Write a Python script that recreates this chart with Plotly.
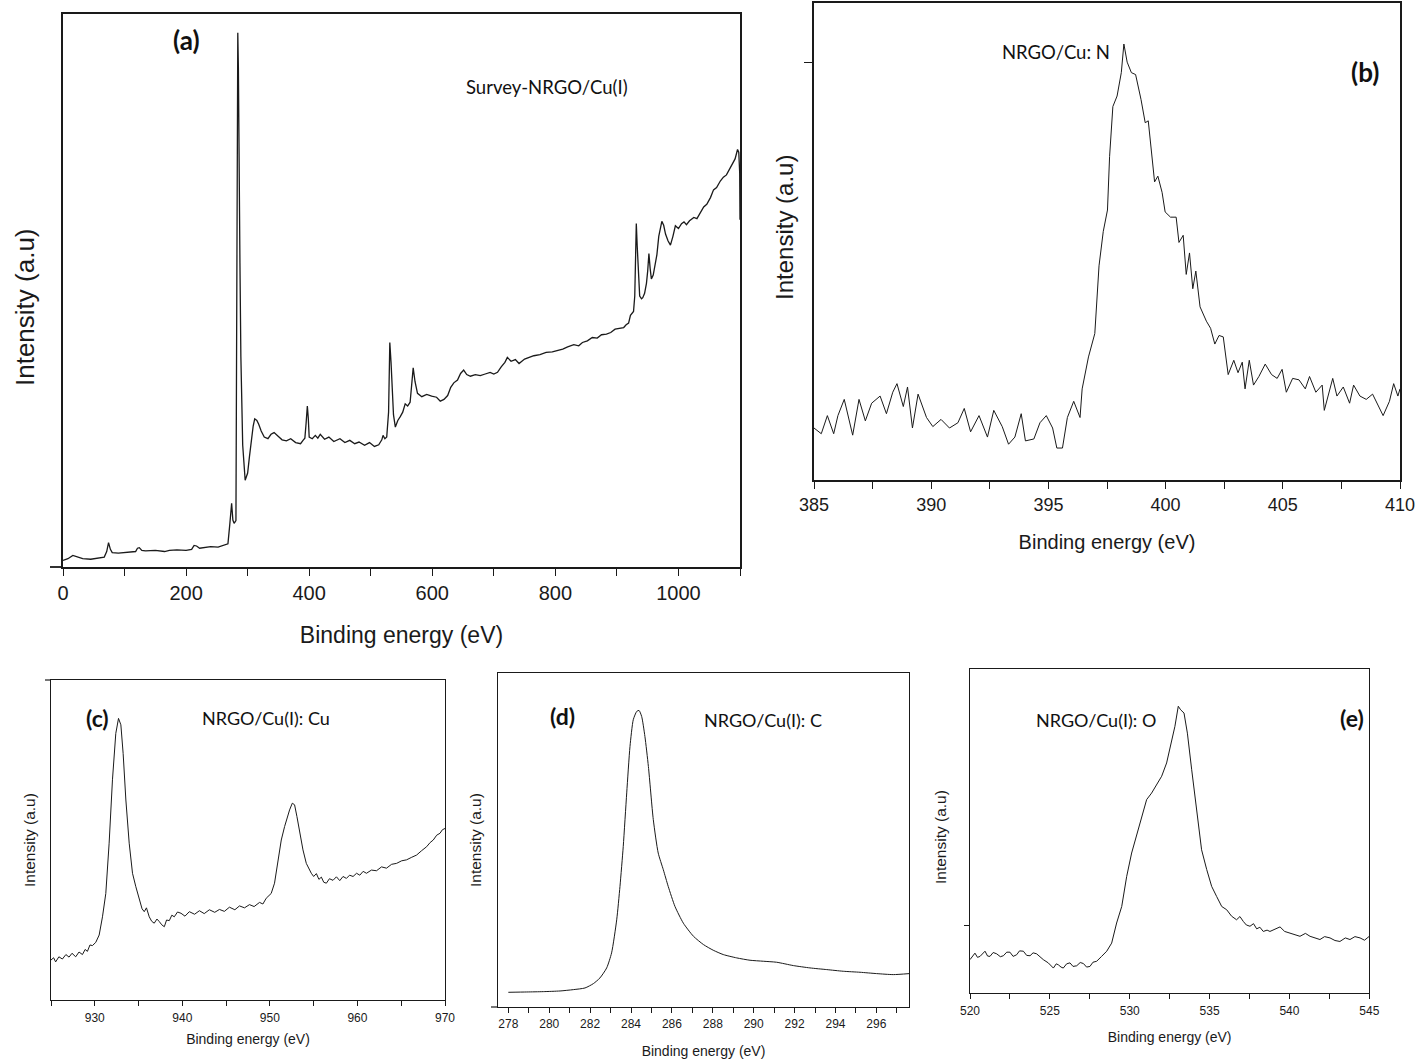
import plotly.graph_objects as go

# ---------------- data ----------------
# (a) survey spectrum
a_x = [0, 8, 16, 24, 32, 45, 60, 67, 71, 74,
       77, 80, 90, 105, 118, 121, 124, 128, 134, 150,
       165, 173, 185, 200, 209, 213, 217, 222, 229, 240,
       252, 262, 268, 271, 274, 276, 278, 281, 282.5, 284,
       285, 286, 287.5, 289, 292, 296, 300, 303, 306, 309,
       311.5, 315, 318, 322, 327, 333, 338, 343, 350, 356,
       363, 370, 378, 386, 390, 393, 395, 397, 398.5, 400,
       405, 410, 414, 418, 425, 432, 440, 450, 458, 466,
       474, 481, 490, 498, 506, 513, 518, 520, 523, 526,
       529, 531, 533, 535, 537, 540, 544, 548, 552, 556,
       560, 564, 567, 569, 572, 576, 583, 591, 599, 607,
       613, 619, 625, 630, 635, 641, 646, 651, 656, 662,
       670, 678, 686, 694, 700, 706, 712, 718, 722, 728,
       735, 741, 750, 758, 765, 775, 785, 795, 804, 812,
       820, 830, 838, 844, 852, 860, 868, 875, 883, 890,
       897, 904, 911, 915, 919, 922, 925, 927, 929, 930.5,
       931.5, 933, 935, 937, 940, 942, 945, 948, 950, 952,
       954, 956, 959, 962, 965, 968, 971, 973, 976, 979,
       983, 987, 991, 995, 1000, 1005, 1009, 1013, 1018, 1025,
       1030, 1035, 1041, 1046, 1052, 1057, 1062, 1068, 1073, 1078,
       1083, 1088, 1092, 1096, 1098, 1099.5, 1100]
a_y = [1.2, 1.5, 2.1, 1.8, 1.5, 1.4, 1.6, 1.8, 2.8, 4.4,
       3.2, 2.6, 2.5, 2.7, 2.8, 3.4, 3.5, 3.0, 2.9, 3.0,
       2.8, 3.0, 3.1, 3.0, 3.2, 3.9, 3.8, 3.4, 3.5, 3.7,
       3.6, 4.0, 4.2, 7.7, 11.5, 8.5, 7.9, 8.4, 40, 96.6,
       90, 80, 55, 38, 22, 15.7, 17.0, 20.0, 23.0, 25.5,
       26.8, 26.5, 25.8, 24.6, 23.5, 23.2, 24.0, 24.3, 23.6, 23.0,
       22.8, 23.2, 22.5, 22.3, 22.9, 23.3, 26.0, 29.1, 27, 23.5,
       23.2, 23.8, 23.3, 24.0, 23.1, 23.5, 22.7, 23.2, 22.5, 22.9,
       22.3, 22.6, 22.0, 22.5, 21.8, 22.1, 23.0, 23.8, 23.2, 23.5,
       28, 40.6, 37, 31.4, 27.5, 25.3, 26.5, 27.2, 28.0, 29.5,
       29.1, 29.8, 33, 36.0, 33.5, 31.4, 30.8, 31.2, 30.9, 30.7,
       30.0, 30.3, 31.0, 32.5, 33.3, 33.8, 35.0, 35.6, 34.8, 34.5,
       34.8, 34.6, 34.9, 35.2, 34.9, 35.2, 36.2, 37.0, 37.9, 37.2,
       37.5, 36.8, 37.6, 37.9, 38.2, 38.4, 38.8, 38.9, 39.1, 39.4,
       39.8, 40.2, 40.0, 40.6, 40.9, 41.5, 41.4, 42.0, 42.1, 42.4,
       43.0, 43.2, 43.3, 43.8, 44.1, 45.5, 46.0, 46.2, 49, 57,
       62.1, 58, 52, 49.0, 48.5, 48.7, 49.5, 51.3, 53.5, 56.7,
       54, 52.1, 52.8, 54.4, 56.5, 59.8, 61.5, 62.5, 61.8, 60.2,
       59.0, 58.2, 59.8, 61.7, 61.2, 62.1, 62.4, 61.9, 62.6, 63.2,
       63.0, 64.0, 65.1, 65.6, 66.8, 68.2, 68.6, 69.8, 70.5, 70.9,
       72.0, 72.8, 73.8, 75.5, 75.0, 71.3, 62.8]

# (b) N 1s
b_x = [385.00, 385.31, 385.57, 385.84, 386.02, 386.29, 386.65, 386.92, 387.19, 387.46,
       387.82, 388.09, 388.36, 388.54, 388.81, 388.99, 389.20, 389.44, 389.80, 390.07,
       390.42, 390.78, 391.14, 391.41, 391.68, 392.04, 392.40, 392.67, 393.03, 393.30,
       393.57, 393.84, 394.02, 394.38, 394.64, 394.91, 395.18, 395.36, 395.60, 395.81,
       396.08, 396.35, 396.44, 396.71, 396.98, 397.16, 397.34, 397.52, 397.61, 397.75,
       397.93, 398.11, 398.22, 398.36, 398.54, 398.72, 398.95, 399.13, 399.26, 399.40,
       399.53, 399.67, 399.85, 399.98, 400.21, 400.45, 400.57, 400.75, 400.88, 401.02,
       401.16, 401.29, 401.47, 401.74, 401.92, 402.10, 402.28, 402.46, 402.67, 402.91,
       403.09, 403.27, 403.39, 403.57, 403.75, 403.98, 404.25, 404.52, 404.76, 404.97,
       405.15, 405.42, 405.69, 405.96, 406.14, 406.41, 406.68, 406.77, 407.13, 407.31,
       407.58, 407.85, 408.02, 408.29, 408.56, 408.83, 409.07, 409.28, 409.55, 409.73,
       409.91, 410.00]
b_y = [10.9, 9.7, 13.5, 9.7, 13.5, 16.9, 9.4, 16.9, 12.4, 16.1,
       17.6, 13.9, 18.4, 20.2, 15.4, 19.5, 10.9, 18.0, 13.1, 11.2,
       12.7, 10.9, 12.0, 15.0, 10.1, 13.5, 9.0, 14.6, 11.2, 7.5,
       9.0, 13.9, 8.2, 8.6, 12.0, 13.5, 10.9, 6.7, 6.7, 13.1,
       16.5, 13.1, 19.1, 25.8, 30.7, 44.9, 52.1, 56.6, 67.8, 78.3,
       80.5, 85.4, 91.4, 87.6, 85.4, 85.0, 79.8, 74.9, 75.3, 69.3,
       62.5, 63.7, 60.3, 56.2, 55.1, 55.1, 49.8, 51.3, 43.1, 47.6,
       40.1, 43.8, 36.3, 33.3, 31.8, 28.5, 30.3, 30.0, 22.1, 25.1,
       22.5, 24.7, 19.1, 25.1, 19.9, 21.7, 24.3, 22.1, 21.3, 23.2,
       18.4, 21.3, 21.0, 19.1, 21.7, 18.4, 19.9, 14.6, 21.3, 17.6,
       19.5, 16.1, 19.9, 17.6, 16.9, 18.0, 15.4, 13.5, 16.5, 20.2,
       17.6, 19.1]

# (c) Cu 2p
c_x = [925.0, 925.3, 925.53, 925.9, 926.3, 926.7, 927.06, 927.4, 927.82, 928.2,
       928.59, 928.9, 929.16, 929.45, 929.73, 930.11, 930.5, 930.88, 931.26, 931.64,
       932.02, 932.4, 932.71, 932.98, 933.24, 933.55, 933.93, 934.31, 934.69, 935.08,
       935.4, 935.65, 935.9, 936.22, 936.5, 936.79, 937.1, 937.37, 937.65, 937.94,
       938.2, 938.51, 938.8, 939.08, 939.45, 939.85, 940.3, 940.8, 941.4, 941.95,
       942.5, 943.09, 943.7, 944.24, 944.8, 945.38, 946.0, 946.53, 947.1, 947.67,
       948.2, 948.82, 949.2, 949.58, 950.15, 950.53, 950.92, 951.3, 951.68, 951.95,
       952.25, 952.56, 952.82, 953.09, 953.4, 953.78, 954.16, 954.45, 954.73, 955.0,
       955.31, 955.6, 955.88, 956.15, 956.45, 956.8, 957.21, 957.6, 957.98, 958.35,
       958.74, 959.1, 959.5, 959.9, 960.27, 960.65, 961.03, 961.6, 962.18, 962.75,
       963.32, 963.9, 964.47, 965.05, 965.61, 966.2, 966.76, 967.3, 967.9, 968.3,
       968.66, 969.05, 969.43, 969.7, 970.0]
c_y = [12.5, 13.2, 11.9, 13.5, 12.8, 14.2, 13.4, 14.6, 13.5, 15.0,
       14.2, 15.8, 15.2, 17.2, 17.0, 18.0, 20.3, 26.0, 33.3, 49.0,
       68.8, 83.3, 88.0, 86.0, 77.0, 62.5, 49.0, 39.6, 35.4, 31.3,
       28.5, 27.6, 28.8, 26.0, 24.6, 24.0, 25.3, 24.5, 23.5, 22.9,
       25.0, 24.8, 26.5, 26.0, 27.5, 27.1, 26.2, 27.6, 26.8, 27.9,
       27.0, 28.2, 27.4, 28.3, 27.7, 29.0, 28.2, 29.4, 28.8, 29.8,
       29.2, 30.5, 30.0, 31.8, 33.3, 36.5, 43.8, 50.0, 54.2, 56.8,
       59.4, 61.5, 61.0, 57.3, 52.1, 46.9, 42.7, 41.0, 39.6, 38.6,
       39.5, 37.7, 38.4, 36.8, 36.5, 37.9, 37.4, 38.5, 37.3, 38.6,
       38.0, 39.0, 38.6, 39.6, 39.0, 40.2, 39.6, 40.6, 40.4, 41.6,
       41.2, 42.4, 42.7, 43.5, 43.8, 44.6, 45.3, 46.6, 47.9, 49.2,
       50.0, 51.5, 52.1, 53.2, 53.6]

# (d) C 1s
d_x = [278.0, 278.90, 279.71, 280.53, 281.18, 281.75, 282.16, 282.48, 282.81, 283.05,
       283.30, 283.46, 283.62, 283.79, 283.95, 284.11, 284.28, 284.39, 284.52, 284.68,
       284.85, 285.09, 285.33, 285.58, 285.82, 286.15, 286.56, 287.05, 287.54, 288.02,
       288.51, 289.17, 289.82, 290.47, 291.12, 291.94, 292.75, 293.57, 294.38, 295.20,
       296.01, 296.83, 297.61]
d_y = [4.4, 4.5, 4.6, 4.8, 5.2, 5.7, 7.0, 8.7, 11.7, 16.2,
       26.1, 36.1, 48.1, 64.1, 78.0, 86.0, 88.5, 88.8, 87.0, 81.0,
       72.0, 56.1, 46.1, 41.1, 36.1, 30.1, 25.1, 21.2, 18.7, 17.0,
       15.7, 14.7, 14.0, 13.7, 13.4, 12.4, 11.7, 11.2, 10.7, 10.4,
       10.0, 9.7, 10.0]

# (e) O 1s
e_x = [520.0, 520.31, 520.47, 520.63, 520.94, 521.1, 521.25, 521.45, 521.67, 521.9,
       522.09, 522.3, 522.5, 522.7, 522.92, 523.1, 523.34, 523.55, 523.76, 523.95,
       524.17, 524.4, 524.59, 524.9, 525.22, 525.4, 525.53, 525.7, 525.84, 526.05,
       526.26, 526.45, 526.68, 526.9, 527.1, 527.3, 527.51, 527.7, 527.93, 528.24,
       528.56, 528.87, 529.18, 529.5, 529.81, 530.12, 530.43, 530.75, 531.06, 531.37,
       531.69, 532.0, 532.31, 532.56, 532.83, 533.04, 533.19, 533.4, 533.61, 533.88,
       534.19, 534.5, 534.82, 535.13, 535.44, 535.76, 536.07, 536.38, 536.69, 536.9,
       537.11, 537.3, 537.53, 537.75, 537.95, 538.15, 538.36, 538.6, 538.78, 539.1,
       539.41, 539.7, 540.03, 540.35, 540.66, 541.0, 541.29, 541.6, 541.91, 542.2,
       542.54, 542.85, 543.16, 543.5, 543.79, 544.1, 544.42, 544.7, 545.0]
e_y = [10.3, 12.3, 11.0, 11.3, 12.9, 11.4, 11.3, 12.5, 12.1, 11.2,
       11.5, 12.6, 12.6, 11.3, 11.8, 13.0, 12.9, 11.6, 11.5, 12.4,
       12.1, 11.0, 10.3, 9.3, 7.7, 9.0, 8.7, 8.0, 7.7, 9.0,
       9.3, 8.2, 8.4, 9.4, 9.1, 8.0, 8.2, 9.5, 9.8, 11.3,
       12.9, 15.4, 21.6, 26.7, 36.0, 43.2, 48.4, 54.5, 59.7, 61.7,
       64.3, 66.9, 71.0, 76.1, 82.3, 88.5, 87.4, 86.4, 80.2, 68.9,
       56.6, 44.2, 38.1, 32.9, 29.8, 26.7, 25.7, 23.7, 22.6, 23.6,
       22.1, 21.0, 20.6, 21.4, 19.8, 20.3, 19.0, 19.4, 19.0, 19.6,
       20.4, 19.0, 18.5, 18.0, 17.5, 18.4, 17.5, 17.0, 16.5, 17.4,
       17.0, 16.2, 15.9, 17.0, 16.5, 17.4, 17.0, 16.3, 17.5]

for xs, ys in [(a_x, a_y), (b_x, b_y), (c_x, c_y), (d_x, d_y), (e_x, e_y)]:
    assert len(xs) == len(ys), (len(xs), len(ys))

X_TITLE = "Binding energy (eV)"
Y_TITLE = "Intensity (a.u)"

# ---------------- figure ----------------
W, H = 1420, 1063
def px(x):
    return x / W
def py(y):
    return 1 - y / H

AXFONT = "Liberation Sans, Arial, sans-serif"
LABFONT = "Lato, Open Sans, sans-serif"
INK = "#1a1a1a"

fig = go.Figure()
line_a = dict(color=INK, width=1.3)
line_o = dict(color=INK, width=1.0)
fig.add_trace(go.Scatter(x=a_x, y=a_y, mode="lines", line=line_a, xaxis="x", yaxis="y", showlegend=False))
fig.add_trace(go.Scatter(x=b_x, y=b_y, mode="lines", line=line_o, xaxis="x2", yaxis="y2", showlegend=False))
fig.add_trace(go.Scatter(x=c_x, y=c_y, mode="lines", line=line_o, xaxis="x3", yaxis="y3", showlegend=False))
fig.add_trace(go.Scatter(x=d_x, y=d_y, mode="lines", line=dict(color=INK, width=1.0, shape="spline", smoothing=0.6),
                         xaxis="x4", yaxis="y4", showlegend=False))
fig.add_trace(go.Scatter(x=e_x, y=e_y, mode="lines", line=line_o, xaxis="x5", yaxis="y5", showlegend=False))


def xaxis(dom, rng, anchor, dtick, minor, tick0, ticklen, tfs, ttfs, tls, standoff, lw=1.5):
    return dict(domain=dom, range=rng, anchor=anchor, showline=True, linecolor=INK, linewidth=lw,
                mirror=True, showgrid=False, zeroline=False, ticks="outside", ticklen=ticklen,
                tickwidth=1, tickcolor=INK, dtick=dtick, tick0=tick0,
                minor=dict(dtick=minor, ticks="outside", ticklen=ticklen, tickwidth=1, tickcolor=INK, showgrid=False),
                tickfont=dict(family=AXFONT, size=tfs, color=INK), ticklabelstandoff=tls,
                title=dict(text=X_TITLE, font=dict(family=AXFONT, size=ttfs, color=INK), standoff=standoff),
                automargin=False, fixedrange=True)


def yaxis(dom, anchor, tickvals=None, ticklen=0, lw=1.5):
    d = dict(domain=dom, range=[0, 100], anchor=anchor, showline=True, linecolor=INK, linewidth=lw,
             mirror=True, showgrid=False, zeroline=False, showticklabels=False,
             automargin=False, fixedrange=True)
    if tickvals:
        d.update(ticks="outside", tickvals=tickvals, ticklen=ticklen, tickwidth=1, tickcolor=INK)
    else:
        d.update(ticks="")
    return d

fig.update_layout(
    width=W, height=H, margin=dict(l=0, r=0, t=0, b=0),
    paper_bgcolor="white", plot_bgcolor="white", showlegend=False,
    xaxis=xaxis([px(63), px(740)], [0, 1100], "y", 200, 100, 0, 7, 20, 23, 0, 24),
    yaxis=yaxis([py(567), py(14)], "x"),
    xaxis2=xaxis([px(814), px(1400)], [385, 410], "y2", 5, 2.5, 385, 7, 18, 20, 1, 21),
    yaxis2=yaxis([py(480), py(3)], "x2", tickvals=[87.6], ticklen=8),
    xaxis3=xaxis([px(51), px(445)], [925, 970], "y3", 10, 5, 930, 5, 12, 14, 1, 10, lw=1.2),
    yaxis3=yaxis([py(1000), py(680)], "x3", lw=1.2),
    xaxis4=xaxis([px(497.7), px(909.3)], [277.48, 297.61], "y4", 2, 1, 278, 5, 12, 14, 0, 16, lw=1.2),
    yaxis4=yaxis([py(1007), py(673)], "x4", lw=1.2),
    xaxis5=xaxis([px(970), px(1369.3)], [520, 545], "y5", 5, 2.5, 520, 5, 12, 14, 1, 15, lw=1.2),
    yaxis5=yaxis([py(993), py(669)], "x5", tickvals=[20.8], ticklen=5, lw=1.2),
)

# small axis-line stubs that stick out past the frame corners
stubs = [((50, 567), (63, 567), 1.8), ((45, 680), (51, 680), 1.2), ((491, 1007), (498, 1007), 1.2)]
for (x0, y0), (x1, y1), w in stubs:
    fig.add_shape(type="line", xref="paper", yref="paper", x0=px(x0), y0=py(y0), x1=px(x1), y1=py(y1),
                  line=dict(color=INK, width=w))

# y-axis titles (rotated), placed where the reference has them
y_titles = [(25, 307, 26), (785, 228, 24), (29, 840, 15.5), (475, 840, 15.5), (940, 837, 15.5)]
for x, y, size in y_titles:
    fig.add_annotation(text=Y_TITLE, x=px(x), y=py(y), xref="paper", yref="paper", showarrow=False,
                       textangle=-90, xanchor="center", yanchor="middle",
                       font=dict(family=AXFONT, size=size, color=INK))

labels = [
    ("(a)", 186, 40, 26, True),
    ("Survey-NRGO/Cu(I)", 547, 87, 18.5, False),
    ("(b)", 1365, 72, 26, True),
    ("NRGO/Cu: N", 1056, 52, 18.5, False),
    ("(c)", 97, 718, 23, True),
    ("NRGO/Cu(I): Cu", 266, 718, 18, False),
    ("(d)", 562, 716, 23, True),
    ("NRGO/Cu(I): C", 763, 720, 18, False),
    ("(e)", 1352, 718, 23, True),
    ("NRGO/Cu(I): O", 1096, 720, 18, False),
]
for text, x, y, size, bold in labels:
    fig.add_annotation(text=f"<b>{text}</b>" if bold else text, x=px(x), y=py(y), xref="paper", yref="paper",
                       showarrow=False, xanchor="center", yanchor="middle",
                       font=dict(family=LABFONT, size=size, color="#111111"))

fig.write_html("out.html", config={"displayModeBar": False},
               post_script="document.body.style.margin='0';document.body.style.overflow='hidden';")
